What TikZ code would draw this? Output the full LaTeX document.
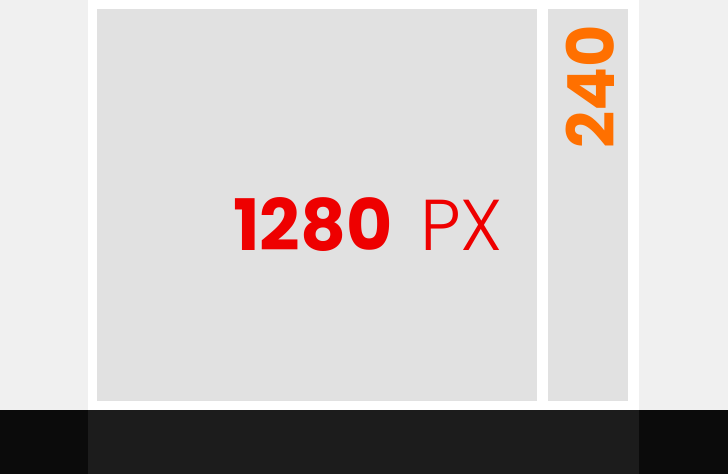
\documentclass[tikz,border=0pt]{standalone}
\usepackage{fontspec}
\setmainfont{Poppins}[UprightFont=* Light, BoldFont=* Bold]
\usepackage{xcolor}
\usetikzlibrary{positioning}
\definecolor{pagebg}{HTML}{F0F0F0}
\definecolor{boxgray}{HTML}{E1E1E1}
\definecolor{barouter}{HTML}{0B0B0B}
\definecolor{barinner}{HTML}{1C1C1C}
\definecolor{pxred}{HTML}{EE0000}
\definecolor{sideorange}{HTML}{FF7000}

\begin{document}
\begin{tikzpicture}[x=1pt, y=-1pt,
  panel/.style={fill=boxgray, draw=none, inner sep=0pt, anchor=north west}]
  % page and footer bar
  \fill[pagebg] (0,0) rectangle (728,410);
  \fill[white] (88,0) rectangle (639,410);
  \fill[barouter] (0,410) rectangle (728,474);
  \fill[barinner] (88,410) rectangle (639,474);
  % content columns
  \node[panel, minimum width=440pt, minimum height=392pt] (main) at (97,9) {};
  \node[panel, minimum width=80pt, minimum height=392pt] (side) at (548,9) {};
  % labels
  \node[text=pxred, inner sep=0pt, anchor=base east, font=\fontsize{71}{71}\selectfont\bfseries] (num) at (393,250) {1280};
  \node[text=pxred, inner sep=0pt, anchor=base east, font=\fontsize{72}{72}\selectfont] (unit) at (503,250) {PX};
  \node[text=sideorange, inner sep=0pt, rotate=90, anchor=base west, font=\fontsize{65}{65}\selectfont\bfseries] (width) at (614,149) {240};
\end{tikzpicture}
\end{document}
